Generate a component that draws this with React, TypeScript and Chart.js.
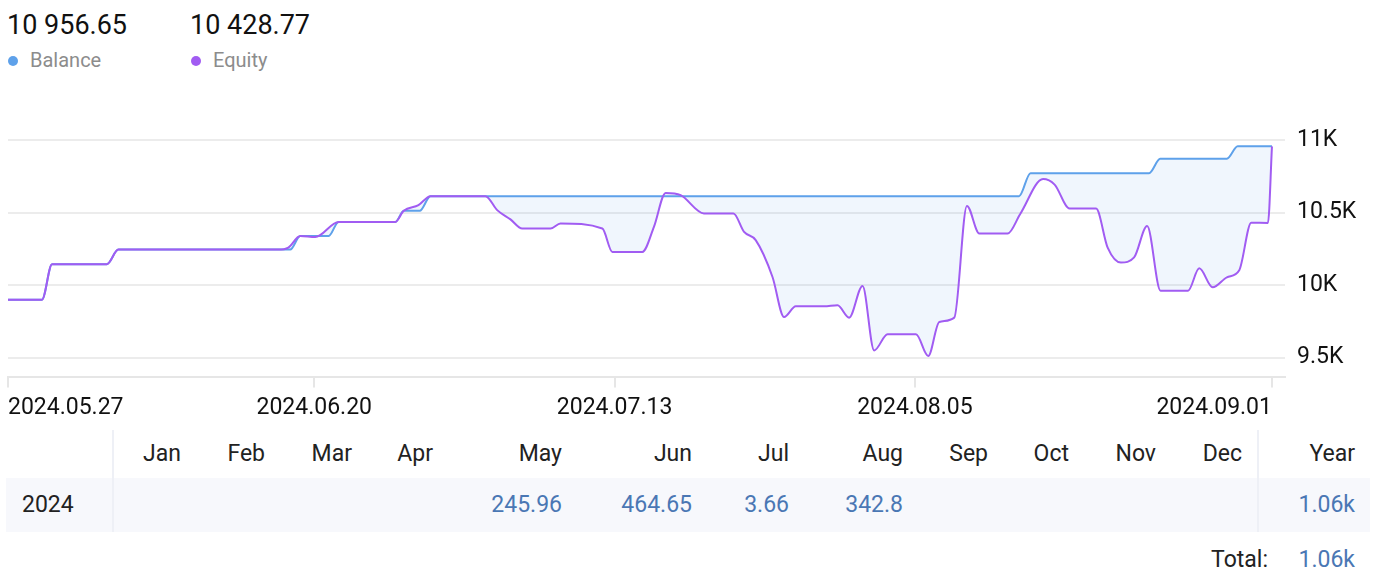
import { useEffect, useRef } from "react";
import { Chart, registerables } from "chart.js";

Chart.register(...registerables);

// ---- data ----
const balanceName = "Balance";
const equityName = "Equity";
const balanceCurrent = "10 956.65";
const equityCurrent = "10 428.77";

// x = days since 2024.05.27
const balanceX = [0, 2.61, 3.38, 7.58, 8.47, 21.66, 22.43, 24.61, 25.37, 29.73, 30.37, 31.6, 32.42, 77.59, 78.47, 87.57, 88.42, 93.54, 94.37, 97];
const balanceY = [9900, 9900, 10144, 10144, 10245, 10245, 10339, 10339, 10436, 10436, 10512, 10512, 10613, 10613, 10772, 10772, 10871, 10871, 10956.65, 10956.65];

const equityX = [0, 2.61, 3.38, 7.58, 8.47, 20.74, 21.51, 22.43, 23.58, 25.37, 29.73, 30.37, 31.5, 32.42, 36.64, 37.54, 38.56, 39.46, 41.64, 42.4, 45.61, 46.38, 48.68, 49.57, 50.47, 51.62, 53.41, 55.67, 56.49, 57.38, 58.67, 59.56, 60.46, 62.63, 63.66, 64.55, 65.58, 66.47, 67.5, 69.68, 70.62, 71.47, 72.62, 73.59, 74.54, 76.72, 77.67, 79.43, 80.32, 81.47, 83.5, 84.39, 85.41, 86.42, 87.42, 88.45, 90.56, 91.42, 92.45, 93.54, 94.49, 95.41, 96.69, 97];
const equityY = [9900, 9900, 10144, 10144, 10245, 10245, 10259, 10339, 10332, 10436, 10436, 10512, 10551, 10613, 10613, 10517, 10453, 10390, 10390, 10425, 10390, 10229, 10229, 10402, 10636, 10620, 10494, 10494, 10367, 10310, 10056, 9780, 9854, 9854, 9861, 9776, 9994, 9550, 9661, 9661, 9511, 9746, 9776, 10546, 10356, 10356, 10489, 10731, 10693, 10528, 10528, 10259, 10156, 10191, 10408, 9962, 9962, 10116, 9985, 10054, 10103, 10430, 10428.77, 10956.65];

const xTickValues = [0, 23.5, 46.55, 69.6, 97];
const xTickLabels = ["2024.05.27", "2024.06.20", "2024.07.13", "2024.08.05", "2024.09.01"];
const yTickValues = [9500, 10000, 10500, 11000];

const months = ["Jan", "Feb", "Mar", "Apr", "May", "Jun", "Jul", "Aug", "Sep", "Oct", "Nov", "Dec"];
const monthValues = ["", "", "", "", "245.96", "464.65", "3.66", "342.8", "", "", "", ""];
const rowYear = "2024";
const yearHeader = "Year";
const yearValue = "1.06k";
const totalLabel = "Total:";
const totalValue = "1.06k";

// ---- styles ----
const BLUE = "#5ea1ea";
const PURPLE = "#a15cf2";
const FONT = "Roboto, 'Noto Sans', sans-serif";
const monthRight = [181, 265, 352, 433, 562, 692, 789, 903, 988, 1069, 1156, 1242];
const TICK_PAD = 7;

export default function App() {
  const ref = useRef<HTMLCanvasElement | null>(null);

  useEffect(() => {
    if (!ref.current) return;
    const chart = new Chart(ref.current, {
      type: "line",
      data: {
        datasets: [
          {
            label: balanceName,
            data: balanceX.map((x, i) => ({ x, y: balanceY[i] })),
            borderColor: BLUE,
            borderWidth: 2,
            pointRadius: 0,
            cubicInterpolationMode: "monotone",
            fill: "+1",
            backgroundColor: "rgba(94,150,234,0.09)",
            order: 1,
          },
          {
            label: equityName,
            data: equityX.map((x, i) => ({ x, y: equityY[i] })),
            borderColor: PURPLE,
            borderWidth: 2,
            pointRadius: 0,
            cubicInterpolationMode: "monotone",
            fill: false,
            order: 0,
          },
        ],
      },
      options: {
        animation: false,
        responsive: false,
        events: [],
        layout: { padding: { top: 26, left: 0, right: 0, bottom: 0 }, autoPadding: false },
        plugins: { legend: { display: false }, tooltip: { enabled: false } },
        scales: {
          x: {
            type: "linear",
            min: 0,
            max: 98,
            afterBuildTicks: (s: any) => {
              s.ticks = xTickValues.map((v) => ({ value: v }));
            },
            ticks: {
              callback: (_v: any, i: number) => xTickLabels[i],
              align: "inner",
              maxRotation: 0,
              autoSkip: false,
              padding: TICK_PAD,
              color: "#111",
              font: { family: FONT, size: 23 },
            },
            grid: { drawOnChartArea: false, drawTicks: true, tickLength: 10, color: "#e6e6e6", lineWidth: 2 },
            border: { display: true, color: "#e6e6e6", width: 2 },
          },
          y: {
            position: "right",
            min: 9364,
            max: 11097,
            afterBuildTicks: (s: any) => {
              s.ticks = yTickValues.map((v) => ({ value: v }));
            },
            afterFit: (s: any) => {
              s.width = 84;
            },
            ticks: {
              callback: (v: any) => `${Number(v) / 1000}K`,
              padding: 12,
              color: "#111",
              font: { family: FONT, size: 23 },
            },
            grid: { color: "#ececec", lineWidth: 2, drawTicks: false },
            border: { display: false },
          },
        },
      },
    } as any);
    return () => chart.destroy();
  }, []);

  const abs = (o: any) => ({ position: "absolute" as const, ...o });
  const cellText = (right: number, top: number, text: string, color: string, key?: any) => (
    <div
      key={key}
      style={abs({
        left: right - 200,
        width: 200,
        top,
        height: 26,
        lineHeight: "26px",
        textAlign: "right",
        fontSize: 23,
        color,
        whiteSpace: "nowrap",
      })}
    >
      {text}
    </div>
  );

  return (
    <div style={{ position: "absolute", left: 0, top: 0, width: 1376, height: 571, fontFamily: FONT, overflow: "hidden", background: "#fff" }}>
      {/* header */}
      <div style={abs({ left: 7, top: 12, fontSize: 27, lineHeight: "27px", color: "#111" })}>{balanceCurrent}</div>
      <div style={abs({ left: 190, top: 12, fontSize: 27, lineHeight: "27px", color: "#111" })}>{equityCurrent}</div>
      <div style={abs({ left: 8, top: 56, width: 10, height: 10, borderRadius: 5, background: BLUE })} />
      <div style={abs({ left: 30, top: 50, fontSize: 20, lineHeight: "20px", color: "#8c8c8c" })}>{balanceName}</div>
      <div style={abs({ left: 191, top: 56, width: 10, height: 10, borderRadius: 5, background: PURPLE })} />
      <div style={abs({ left: 213, top: 50, fontSize: 20, lineHeight: "20px", color: "#8c8c8c" })}>{equityName}</div>

      {/* chart */}
      <canvas ref={ref} width={1376 - 8 - TICK_PAD + TICK_PAD} height={329} style={abs({ left: 8 - TICK_PAD, top: 100, width: 1368, height: 329 })} />

      {/* table */}
      <div style={abs({ left: 6, top: 478, width: 1364, height: 54, background: "#f7f8fc" })} />
      <div style={abs({ left: 112, top: 430, width: 2, height: 102, background: "#eef0f6" })} />
      <div style={abs({ left: 1257, top: 430, width: 2, height: 102, background: "#eef0f6" })} />
      {months.map((m, i) => cellText(monthRight[i], 441, m, "#222", "m" + i))}
      {cellText(1355, 441, yearHeader, "#222")}
      <div style={abs({ left: 22, top: 492, height: 26, lineHeight: "26px", fontSize: 23, color: "#222" })}>{rowYear}</div>
      {monthValues.map((v, i) => (v ? cellText(monthRight[i], 492, v, "#4a77b4", "v" + i) : null))}
      {cellText(1355, 492, yearValue, "#4a77b4")}
      {cellText(1268, 547, totalLabel, "#222")}
      {cellText(1355, 547, totalValue, "#4a77b4")}
    </div>
  );
}
